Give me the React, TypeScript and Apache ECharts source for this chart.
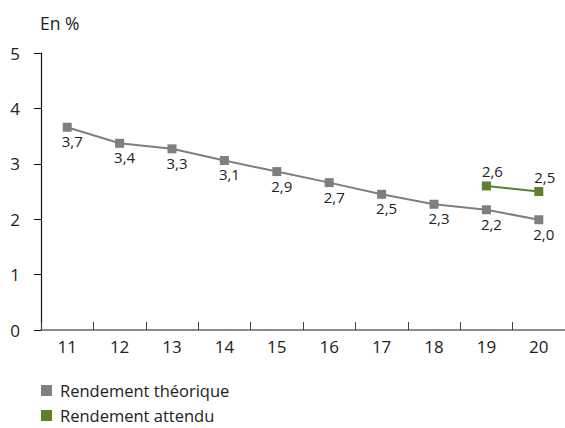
import React, { useEffect, useRef } from "react";
import * as echarts from "echarts";

const categories = ["11", "12", "13", "14", "15", "16", "17", "18", "19", "20"];
const theoValues = [3.66, 3.37, 3.27, 3.06, 2.86, 2.66, 2.45, 2.27, 2.17, 1.99];
const theoLabels = ["3,7", "3,4", "3,3", "3,1", "2,9", "2,7", "2,5", "2,3", "2,2", "2,0"];
const attValues: (number | null)[] = [null, null, null, null, null, null, null, null, 2.6, 2.5];
const attLabels = ["", "", "", "", "", "", "", "", "2,6", "2,5"];
const yTicks = [0, 1, 2, 3, 4, 5];
const seriesNames = ["Rendement théorique", "Rendement attendu"];

const FONT = "Open Sans";
const GREY = "#7f7f7f";
const GREEN = "#5e7f2c";

export default function App() {
  const ref = useRef<HTMLDivElement>(null);
  useEffect(() => {
    if (!ref.current) return;
    const chart = echarts.init(ref.current, null, { renderer: "svg" });
    const legendBase = {
      orient: "horizontal",
      left: 41,
      padding: 0,
      itemWidth: 11,
      itemHeight: 11,
      icon: "rect",
      textStyle: {
        fontSize: 16.5,
        fontFamily: FONT,
        color: "#222",
        padding: [0, 0, 0, 3],
      },
    };
    chart.setOption({
      animation: false,
      textStyle: { fontFamily: FONT },
      grid: { left: 41, top: 53, width: 534, height: 277, containLabel: false },
      graphic: [
        {
          type: "text",
          left: 40,
          top: 14,
          style: { text: "En %", fontSize: 17.5, fontFamily: FONT, fill: "#222" },
        },
      ],
      legend: [
        { ...legendBase, top: 382, data: [seriesNames[0]] },
        { ...legendBase, top: 407, data: [seriesNames[1]] },
      ],
      xAxis: {
        type: "category",
        data: categories,
        boundaryGap: true,
        axisLine: { lineStyle: { color: "#666", width: 1.5 } },
        axisTick: { show: true, inside: true, length: 8, lineStyle: { color: "#444" } },
        axisLabel: { fontSize: 17, color: "#222", margin: 8, fontFamily: FONT },
      },
      yAxis: {
        type: "value",
        min: 0,
        max: 5,
        interval: 1,
        axisLine: { show: true, lineStyle: { color: "#111", width: 1.2 } },
        axisTick: { show: true, length: 7, lineStyle: { color: "#111" } },
        splitLine: { show: false },
        axisLabel: {
          fontSize: 17,
          color: "#222",
          margin: 21,
          fontFamily: FONT,
          formatter: (v: number) => (yTicks.includes(v) ? String(v) : ""),
        },
      },
      series: [
        {
          name: seriesNames[0],
          type: "line",
          data: theoValues,
          symbol: "rect",
          symbolSize: 9,
          itemStyle: { color: GREY },
          lineStyle: { color: GREY, width: 2 },
          label: {
            show: true,
            position: "bottom",
            distance: 2,
            offset: [5, 0],
            fontSize: 15,
            color: "#222",
            fontFamily: FONT,
            formatter: (p: any) => theoLabels[p.dataIndex],
          },
        },
        {
          name: seriesNames[1],
          type: "line",
          data: attValues,
          symbol: "rect",
          symbolSize: 9,
          itemStyle: { color: GREEN },
          lineStyle: { color: GREEN, width: 2 },
          label: {
            show: true,
            position: "top",
            distance: 3,
            offset: [6, 0],
            fontSize: 15,
            color: "#222",
            fontFamily: FONT,
            formatter: (p: any) => attLabels[p.dataIndex],
          },
        },
      ],
    });
    return () => chart.dispose();
  }, []);
  return (
    <div
      ref={ref}
      style={{ position: "fixed", left: 0, top: 0, width: 565, height: 428, background: "#fff" }}
    />
  );
}
